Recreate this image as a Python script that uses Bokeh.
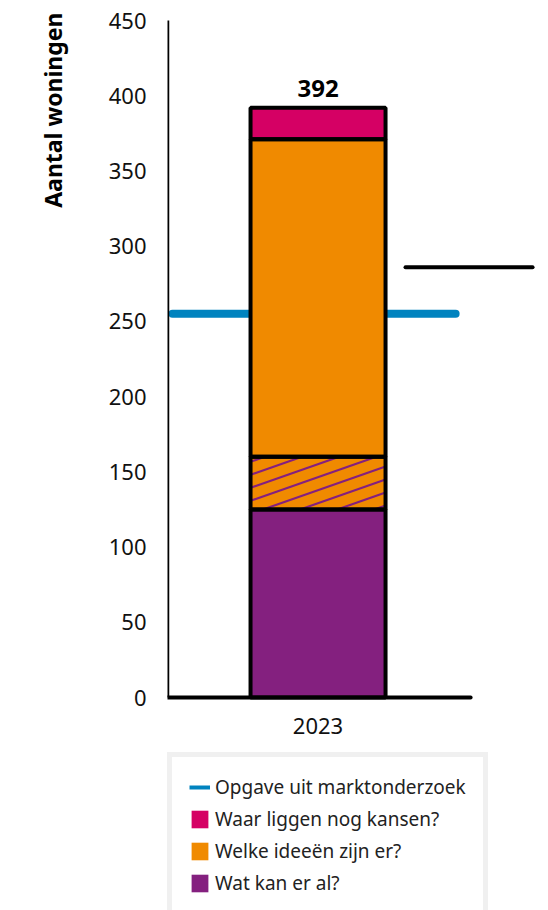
import math
from bokeh.plotting import figure
from bokeh.models import (Range1d, Legend, LegendItem, LabelSet, Title,
                          ColumnDataSource, FixedTicker)
from bokeh.core.properties import value
from bokeh.embed import file_html
from bokeh.resources import INLINE

# ---- data ----
years = ["2023"]
wat_kan_er_al = [125]          # purple
overlap_hatched = [35]         # orange with purple hatch
welke_ideeen = [211]           # orange
waar_liggen_kansen = [21]      # magenta
totals = [392]
marktonderzoek = [255]         # blue reference line
extra_line = [286]             # black short line on the right
y_ticks = [0, 50, 100, 150, 200, 250, 300, 350, 400, 450]

PURPLE = "#84207f"
ORANGE = "#f08a00"
MAGENTA = "#d50064"
BLUE = "#0083bf"
FONT = "Noto Sans"

# stacked bounds derived from the data
b0 = [0]
t0 = [b0[0] + wat_kan_er_al[0]]
t1 = [t0[0] + overlap_hatched[0]]
t2 = [t1[0] + welke_ideeen[0]]
t3 = [t2[0] + waar_liggen_kansen[0]]
xs = [0]
W = 1.0

# frame: x 167..548, y 20..910 ; value 0 sits at y=697, 450 at y=20
FW, FH = 381, 890
XR = (-1.115, 1.707)
y_min = -(910 - 697) * 450 / (697 - 20)
p = figure(frame_width=FW, frame_height=FH, output_backend="svg",
           toolbar_location=None,
           x_range=Range1d(*XR), y_range=Range1d(y_min, 450),
           min_border_left=167, min_border_right=0, min_border_top=20,
           min_border_bottom=0)
p.outline_line_color = None
p.xgrid.visible = False
p.ygrid.visible = False
p.background_fill_color = "white"
p.xaxis.visible = False

# blue reference line
p.segment(x0=[-1.078], x1=[1.019], y0=marktonderzoek, y1=marktonderzoek,
          line_color=BLUE, line_width=8, line_cap="round")
# legend-only swatch for the blue line (hidden inside the thick line)
lg_blue = p.line(x=[-1.07, 1.01], y=marktonderzoek * 2, line_color=BLUE,
                 line_width=4)
p.segment(x0=[0.648], x1=[1.589], y0=extra_line, y1=extra_line,
          line_color="black", line_width=4, line_cap="round")

# bar fills (also used as legend swatches)
lg_pu = p.vbar(x=xs, width=W, bottom=b0, top=t0, fill_color=PURPLE,
               line_color=None)
lg_or = p.vbar(x=xs, width=W, bottom=t1, top=t2, fill_color=ORANGE,
               line_color=None)
lg_mag = p.vbar(x=xs, width=W, bottom=t2, top=t3, fill_color=MAGENTA,
                line_color=None)

# hatched overlap segment: orange fill with shallow purple hatch lines
p.vbar(x=xs, width=W, bottom=t0, top=t1, fill_color=ORANGE, line_color=None)
px_per_x = FW / (XR[1] - XR[0])
px_per_y = (697 - 20) / 450
slope = 0.35 * px_per_x / px_per_y      # data units of y per unit of x
step = 13 / px_per_y                    # vertical spacing of hatch lines
hx, hy = [], []
for i, xc in enumerate(xs):
    xl, xr = xc - W / 2, xc + W / 2
    yb, yt = t0[i], t1[i]
    c = yb - slope * (xr - xl) + step * 0.3
    while c < yt:
        xa = max(xl, xl + (yb - c) / slope)
        xb = min(xr, xl + (yt - c) / slope)
        if xb > xa:
            hx.append([xa, xb])
            hy.append([c + slope * (xa - xl), c + slope * (xb - xl)])
        c += step
p.multi_line(xs=hx, ys=hy, line_color=PURPLE, line_width=2.2)

# bar outlines
for bot, top in ((b0, t0), (t0, t1), (t1, t2), (t2, t3)):
    p.vbar(x=xs, width=W, bottom=bot, top=top, fill_color=None,
           line_color="black", line_width=4)

# axis lines
p.segment(x0=[XR[0]], x1=[1.13], y0=[0], y1=[0], line_color="black",
          line_width=4, line_cap="round")
p.segment(x0=[XR[0]], x1=[XR[0]], y0=[0], y1=[456], line_color="black",
          line_width=3.5)

# total label
src = ColumnDataSource(dict(x=xs, y=totals, t=[str(v) for v in totals]))
p.add_layout(LabelSet(x="x", y="y", text="t", source=src, y_offset=11,
                      text_align="center", text_baseline="alphabetic",
                      text_font=value(FONT), text_font_size="24px",
                      text_font_style="bold", text_color="black"))

# category label
csrc = ColumnDataSource(dict(x=xs, y=[0] * len(xs), t=years))
p.add_layout(LabelSet(x="x", y="y", text="t", source=csrc, y_offset=-36,
                      text_align="center", text_baseline="alphabetic",
                      text_font=value(FONT), text_font_size="22px",
                      text_color="#111111"))

# y axis
p.yaxis.ticker = FixedTicker(ticks=y_ticks)
p.yaxis.axis_line_color = None
p.yaxis.major_tick_line_color = None
p.yaxis.minor_tick_line_color = None
p.yaxis.major_label_standoff = 15
p.yaxis.major_label_text_font = FONT
p.yaxis.major_label_text_font_size = "22px"
p.yaxis.major_label_text_color = "#111111"

# axis title, aligned at the top
ttl = Title(text="Aantal woningen", align="right", vertical_align="top",
            text_font=FONT, text_font_size="23px", text_font_style="bold",
            text_color="black", standoff=70, offset=-8)
p.add_layout(ttl, "left")

legend = Legend(items=[
    LegendItem(label="Opgave uit marktonderzoek", renderers=[lg_blue]),
    LegendItem(label="Waar liggen nog kansen?", renderers=[lg_mag]),
    LegendItem(label="Welke ideeën zijn er?", renderers=[lg_or]),
    LegendItem(label="Wat kan er al?", renderers=[lg_pu]),
], location=(0, -8))
legend.margin = 0
legend.padding = 17
legend.spacing = 6
legend.glyph_width = 21
legend.glyph_height = 22
legend.label_height = 22
legend.label_standoff = 5
legend.label_text_font = FONT
legend.label_text_font_size = "19px"
legend.label_text_color = "#222222"
legend.border_line_color = "#e2e2e2"
legend.border_line_width = 5
legend.background_fill_color = "white"
p.add_layout(legend, "center")

open("out.html", "w").write(file_html(p, INLINE))
